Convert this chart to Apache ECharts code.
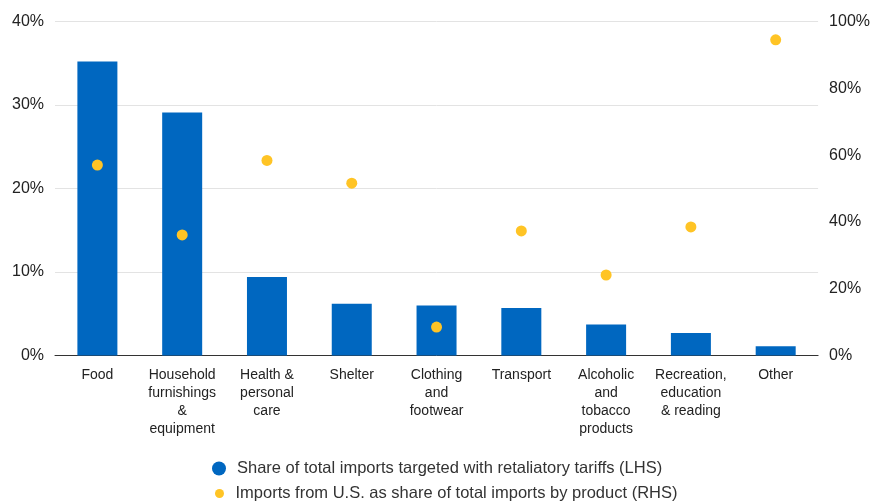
<!DOCTYPE html>
<html><head><meta charset="utf-8">
<script src="https://cdn.jsdelivr.net/npm/echarts@6/dist/echarts.min.js"></script>
<style>html,body{margin:0;padding:0;background:#fff}#c{width:873px;height:502px}</style>
</head><body><div id="c"></div>
<script>
const categories = ["Food","Household\nfurnishings\n&\nequipment","Health &\npersonal\ncare","Shelter","Clothing\nand\nfootwear","Transport","Alcoholic\nand\ntobacco\nproducts","Recreation,\neducation\n& reading","Other"];
const tariffShare = [35.2, 29.1, 9.4, 6.2, 6.0, 5.7, 3.7, 2.7, 1.1];
const usShare = [57.0, 36.1, 58.4, 51.6, 8.5, 37.3, 24.1, 38.5, 94.5];
const leftTicks = [0, 40, 10];
const rightTicks = [0, 100, 20];
const nameBar = "Share of total imports targeted with retaliatory tariffs (LHS)";
const nameDot = "Imports from U.S. as share of total imports by product (RHS)";
const font = "Arial, 'Liberation Sans', sans-serif";
const chart = echarts.init(document.getElementById('c'));
chart.setOption({
  animation: false,
  grid: {left: 55, right: 54, top: 21.5, bottom: 146.5},
  legend: [
    {data: [nameBar], left: 207, top: 455, orient: 'vertical', icon: 'circle', itemWidth: 26, itemHeight: 14, symbolKeepAspect: true,
     textStyle: {fontFamily: font, fontSize: 16.5, color: '#333'}},
    {data: [nameDot], left: 210, top: 480, orient: 'vertical', icon: 'circle', itemWidth: 22, itemHeight: 9, symbolKeepAspect: true,
     textStyle: {fontFamily: font, fontSize: 16.5, color: '#333'}}
  ],
  xAxis: {
    type: 'category', data: categories,
    axisLine: {lineStyle: {color: '#333', width: 1}},
    axisTick: {show: false},
    axisLabel: {interval: 0, fontFamily: font, fontSize: 14, color: '#222', lineHeight: 18, margin: 11}
  },
  yAxis: [
    {type: 'value', min: leftTicks[0], max: leftTicks[1], interval: leftTicks[2],
     axisLabel: {formatter: '{value}%', fontFamily: font, fontSize: 16, color: '#222', margin: 11},
     axisLine: {show: false}, axisTick: {show: false},
     splitLine: {lineStyle: {color: '#e3e3e3', width: 1}}},
    {type: 'value', min: rightTicks[0], max: rightTicks[1], interval: rightTicks[2], position: 'right',
     axisLabel: {formatter: '{value}%', fontFamily: font, fontSize: 16, color: '#222', margin: 11},
     axisLine: {show: false}, axisTick: {show: false}, splitLine: {show: false}}
  ],
  series: [
    {name: nameBar, type: 'bar', data: tariffShare, yAxisIndex: 0, barWidth: 40,
     itemStyle: {color: '#0067C0'}},
    {name: nameDot, type: 'scatter', data: usShare, yAxisIndex: 1, symbolSize: 11,
     itemStyle: {color: '#FFC425', opacity: 1}, z: 5}
  ]
});
</script></body></html>
